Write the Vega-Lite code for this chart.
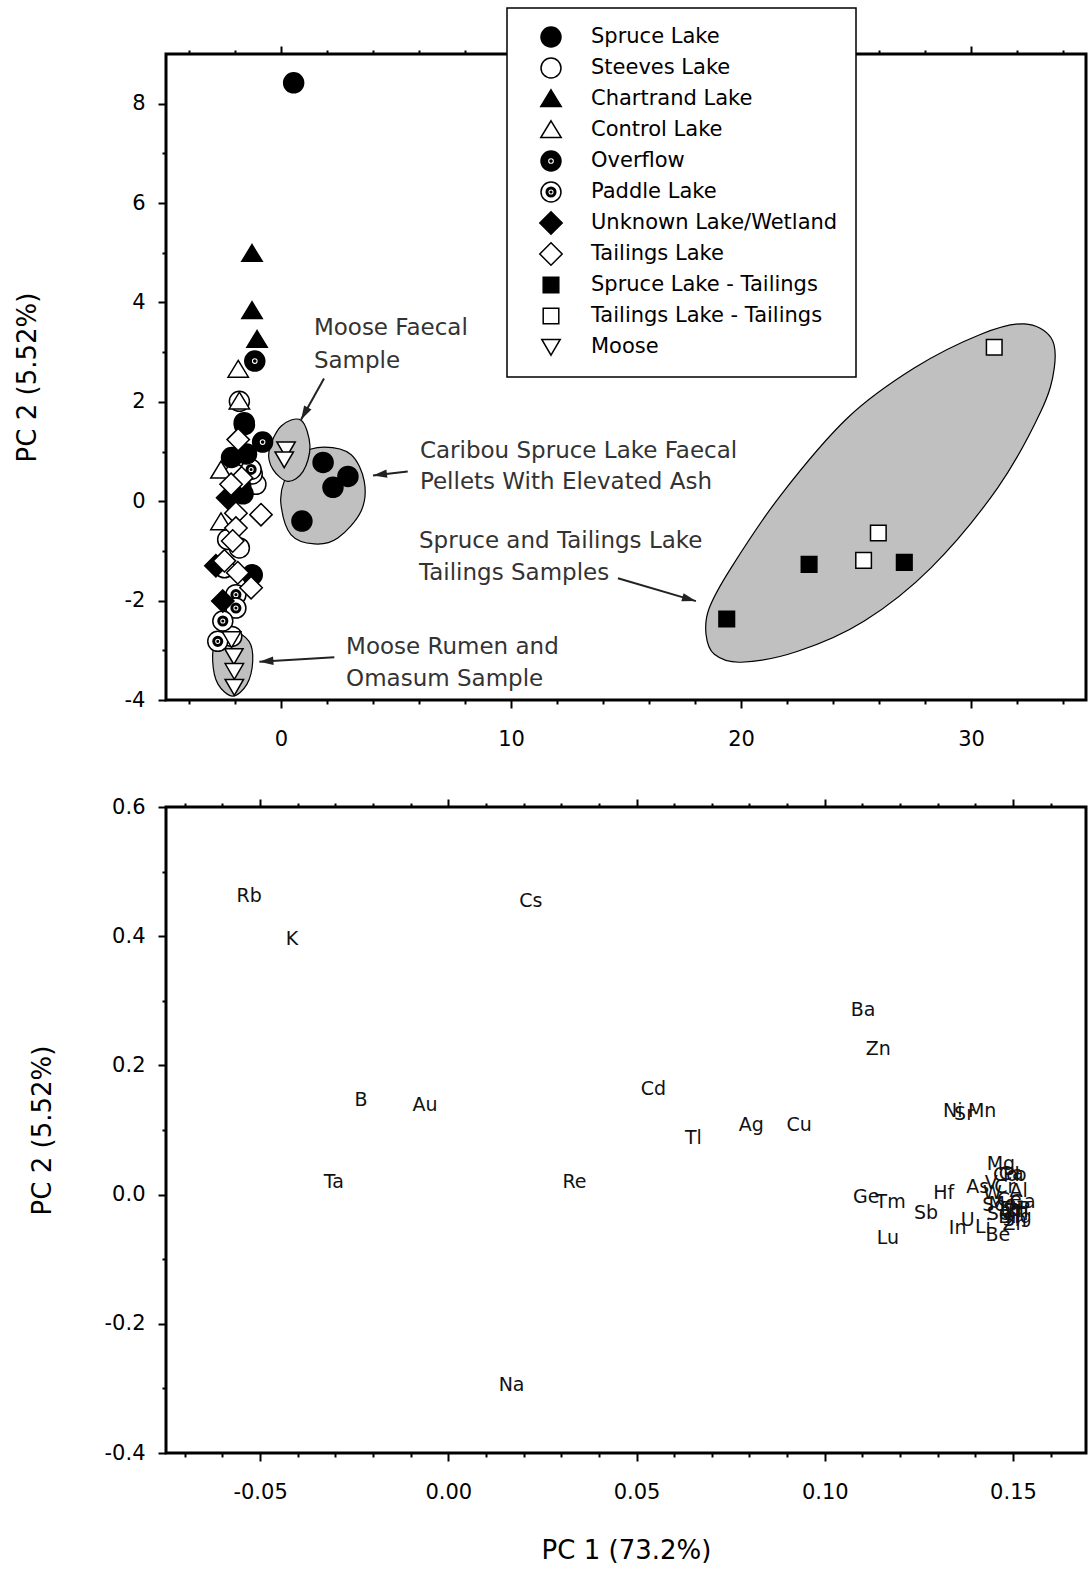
{
  "$schema": "https://vega.github.io/schema/vega-lite/v6.json",
  "padding": {"left": 12, "top": 7, "right": 2, "bottom": 4},
  "bounds": "flush",
  "spacing": 107,
  "datasets": {
    "scores": [
      {"g": "Steeves Lake", "x": -1.81, "y": 2.01},
      {"g": "Steeves Lake", "x": -1.09, "y": 0.34},
      {"g": "Steeves Lake", "x": -1.25, "y": 0.55},
      {"g": "Steeves Lake", "x": -2.32, "y": -0.77},
      {"g": "Steeves Lake", "x": -1.81, "y": -0.94},
      {"g": "Steeves Lake", "x": -2.46, "y": -1.34},
      {"g": "Steeves Lake", "x": -2.14, "y": -2.72},
      {"g": "Steeves Lake", "x": -2.0, "y": 0.55},
      {"g": "Paddle Lake", "x": -1.30, "y": 0.64},
      {"g": "Paddle Lake", "x": -1.85, "y": 0.17},
      {"g": "Paddle Lake", "x": -1.96, "y": -1.88},
      {"g": "Paddle Lake", "x": -1.96, "y": -2.15},
      {"g": "Paddle Lake", "x": -2.53, "y": -2.41},
      {"g": "Paddle Lake", "x": -2.75, "y": -2.82},
      {"g": "Spruce Lake", "x": 0.55, "y": 8.42},
      {"g": "Spruce Lake", "x": 1.83, "y": 0.78},
      {"g": "Spruce Lake", "x": 2.26, "y": 0.28},
      {"g": "Spruce Lake", "x": 2.91, "y": 0.50},
      {"g": "Spruce Lake", "x": 0.91, "y": -0.40},
      {"g": "Spruce Lake", "x": -1.6, "y": 1.58},
      {"g": "Spruce Lake", "x": -2.15, "y": 0.88},
      {"g": "Spruce Lake", "x": -1.5, "y": 0.95},
      {"g": "Spruce Lake", "x": -1.65, "y": 0.15},
      {"g": "Spruce Lake", "x": -1.25, "y": -1.48},
      {"g": "Spruce Lake", "x": -1.75, "y": 0.3},
      {"g": "Unknown Lake/Wetland", "x": -2.32, "y": 0.07},
      {"g": "Unknown Lake/Wetland", "x": -2.83, "y": -1.30},
      {"g": "Unknown Lake/Wetland", "x": -2.53, "y": -2.01},
      {"g": "Overflow", "x": -1.14, "y": 2.82},
      {"g": "Overflow", "x": -1.59, "y": 1.54},
      {"g": "Overflow", "x": -0.80, "y": 1.19},
      {"g": "Control Lake", "x": -1.86, "y": 2.65},
      {"g": "Control Lake", "x": -1.81, "y": 2.01},
      {"g": "Control Lake", "x": -2.61, "y": 0.62},
      {"g": "Control Lake", "x": -2.61, "y": -0.42},
      {"g": "Chartrand Lake", "x": -1.26, "y": 4.98},
      {"g": "Chartrand Lake", "x": -1.26, "y": 3.83},
      {"g": "Chartrand Lake", "x": -1.04, "y": 3.25},
      {"g": "Tailings Lake", "x": -1.86, "y": 1.24},
      {"g": "Tailings Lake", "x": -1.71, "y": 0.47},
      {"g": "Tailings Lake", "x": -2.17, "y": 0.34},
      {"g": "Tailings Lake", "x": -1.96, "y": -0.24},
      {"g": "Tailings Lake", "x": -0.87, "y": -0.27},
      {"g": "Tailings Lake", "x": -1.96, "y": -0.54},
      {"g": "Tailings Lake", "x": -2.1, "y": -0.80},
      {"g": "Tailings Lake", "x": -2.46, "y": -1.20},
      {"g": "Tailings Lake", "x": -1.88, "y": -1.44},
      {"g": "Tailings Lake", "x": -1.30, "y": -1.74},
      {"g": "Moose", "x": 0.22, "y": 1.04},
      {"g": "Moose", "x": 0.14, "y": 0.84},
      {"g": "Moose", "x": -2.15, "y": -2.78},
      {"g": "Moose", "x": -2.05, "y": -3.12},
      {"g": "Moose", "x": -2.03, "y": -3.42},
      {"g": "Moose", "x": -2.03, "y": -3.74},
      {"g": "Spruce Lake - Tailings", "x": 19.38, "y": -2.37},
      {"g": "Spruce Lake - Tailings", "x": 22.96, "y": -1.27},
      {"g": "Spruce Lake - Tailings", "x": 27.1, "y": -1.23},
      {"g": "Tailings Lake - Tailings", "x": 31.01, "y": 3.10},
      {"g": "Tailings Lake - Tailings", "x": 25.97, "y": -0.64},
      {"g": "Tailings Lake - Tailings", "x": 25.33, "y": -1.19}
    ],
    "ellipses": [
      {"e": "T", "i": 1, "x": 32.32, "y": 3.57},
      {"e": "T", "i": 2, "x": 33.48, "y": 3.29},
      {"e": "T", "i": 3, "x": 33.62, "y": 2.68},
      {"e": "T", "i": 4, "x": 33.04, "y": 1.81},
      {"e": "T", "i": 5, "x": 31.16, "y": 0.27},
      {"e": "T", "i": 6, "x": 28.26, "y": -1.34},
      {"e": "T", "i": 7, "x": 25.36, "y": -2.41},
      {"e": "T", "i": 8, "x": 22.47, "y": -3.02},
      {"e": "T", "i": 9, "x": 20.0, "y": -3.24},
      {"e": "T", "i": 10, "x": 18.84, "y": -3.08},
      {"e": "T", "i": 11, "x": 18.48, "y": -2.68},
      {"e": "T", "i": 12, "x": 18.62, "y": -2.15},
      {"e": "T", "i": 13, "x": 19.57, "y": -1.34},
      {"e": "T", "i": 14, "x": 21.74, "y": 0.13},
      {"e": "T", "i": 15, "x": 24.64, "y": 1.68},
      {"e": "T", "i": 16, "x": 27.53, "y": 2.68},
      {"e": "T", "i": 17, "x": 30.43, "y": 3.36},
      {"e": "C", "i": 1, "x": 1.88, "y": 1.09},
      {"e": "C", "i": 2, "x": 3.04, "y": 0.94},
      {"e": "C", "i": 3, "x": 3.62, "y": 0.40},
      {"e": "C", "i": 4, "x": 3.48, "y": -0.20},
      {"e": "C", "i": 5, "x": 2.47, "y": -0.74},
      {"e": "C", "i": 6, "x": 1.45, "y": -0.86},
      {"e": "C", "i": 7, "x": 0.43, "y": -0.67},
      {"e": "C", "i": 8, "x": 0.0, "y": -0.07},
      {"e": "C", "i": 9, "x": 0.14, "y": 0.40},
      {"e": "C", "i": 10, "x": 0.87, "y": 0.94},
      {"e": "F", "i": 1, "x": 0.87, "y": 1.63},
      {"e": "F", "i": 2, "x": 1.26, "y": 1.11},
      {"e": "F", "i": 3, "x": 0.96, "y": 0.60},
      {"e": "F", "i": 4, "x": 0.30, "y": 0.40},
      {"e": "F", "i": 5, "x": -0.35, "y": 0.64},
      {"e": "F", "i": 6, "x": -0.52, "y": 1.01},
      {"e": "F", "i": 7, "x": 0.0, "y": 1.51},
      {"e": "R", "i": 1, "x": -2.1, "y": -2.62},
      {"e": "R", "i": 2, "x": -1.39, "y": -2.82},
      {"e": "R", "i": 3, "x": -1.23, "y": -3.22},
      {"e": "R", "i": 4, "x": -1.48, "y": -3.68},
      {"e": "R", "i": 5, "x": -2.1, "y": -3.92},
      {"e": "R", "i": 6, "x": -2.74, "y": -3.68},
      {"e": "R", "i": 7, "x": -2.97, "y": -3.22},
      {"e": "R", "i": 8, "x": -2.83, "y": -2.82}
    ],
    "arrows": [
      {"a": 1, "x": 1.87, "y": 2.47, "x2": 0.87, "y2": 1.64},
      {"a": 2, "x": 5.51, "y": 0.60, "x2": 4.0, "y2": 0.52},
      {"a": 3, "x": 14.65, "y": -1.55, "x2": 18.04, "y2": -2.01},
      {"a": 4, "x": 2.32, "y": -3.14, "x2": -0.94, "y2": -3.23}
    ],
    "notes": [
      {"t": "Moose Faecal", "x": 1.43, "y": 3.48},
      {"t": "Sample", "x": 1.43, "y": 2.82},
      {"t": "Caribou Spruce Lake Faecal", "x": 6.04, "y": 1.01},
      {"t": "Pellets With Elevated Ash", "x": 6.04, "y": 0.38},
      {"t": "Spruce and Tailings Lake", "x": 6.0, "y": -0.80},
      {"t": "Tailings Samples", "x": 6.0, "y": -1.45},
      {"t": "Moose Rumen and", "x": 2.83, "y": -2.94},
      {"t": "Omasum Sample", "x": 2.83, "y": -3.58}
    ],
    "loadings": [
      {"el": "Rb", "x": -0.0529, "y": 0.462},
      {"el": "K", "x": -0.0415, "y": 0.396},
      {"el": "Cs", "x": 0.0219, "y": 0.455},
      {"el": "Ba", "x": 0.1102, "y": 0.285},
      {"el": "Zn", "x": 0.1142, "y": 0.225},
      {"el": "B", "x": -0.0232, "y": 0.147},
      {"el": "Au", "x": -0.0062, "y": 0.138},
      {"el": "Cd", "x": 0.0545, "y": 0.164},
      {"el": "Ag", "x": 0.0805, "y": 0.107},
      {"el": "Cu", "x": 0.0932, "y": 0.107},
      {"el": "Tl", "x": 0.0651, "y": 0.087},
      {"el": "Ni", "x": 0.1340, "y": 0.130},
      {"el": "Sr", "x": 0.1370, "y": 0.124},
      {"el": "Mn", "x": 0.1418, "y": 0.130},
      {"el": "Ta", "x": -0.0304, "y": 0.020},
      {"el": "Re", "x": 0.0335, "y": 0.019},
      {"el": "Na", "x": 0.0168, "y": -0.294},
      {"el": "Ge", "x": 0.1110, "y": -0.003},
      {"el": "Tm", "x": 0.1175, "y": -0.011},
      {"el": "Hf", "x": 0.1316, "y": 0.003},
      {"el": "Sb", "x": 0.1269, "y": -0.028},
      {"el": "Lu", "x": 0.1168, "y": -0.067},
      {"el": "As", "x": 0.1406, "y": 0.011},
      {"el": "In", "x": 0.1353, "y": -0.052},
      {"el": "U", "x": 0.1380, "y": -0.039},
      {"el": "Li", "x": 0.1420, "y": -0.050},
      {"el": "Be", "x": 0.1460, "y": -0.062},
      {"el": "Mg", "x": 0.1468, "y": 0.048},
      {"el": "Co", "x": 0.1480, "y": 0.030},
      {"el": "Ca", "x": 0.1495, "y": 0.032},
      {"el": "Pb", "x": 0.1505, "y": 0.030},
      {"el": "V", "x": 0.1442, "y": 0.018},
      {"el": "Cr", "x": 0.1478, "y": 0.012},
      {"el": "W", "x": 0.1445, "y": 0.002},
      {"el": "Al", "x": 0.1515, "y": 0.005},
      {"el": "Ga", "x": 0.1525, "y": -0.012},
      {"el": "Sc", "x": 0.1448, "y": -0.016},
      {"el": "Mo", "x": 0.1472, "y": -0.014},
      {"el": "Fe", "x": 0.1495, "y": -0.022},
      {"el": "Ti", "x": 0.1520, "y": -0.030},
      {"el": "Bi", "x": 0.1485, "y": -0.035},
      {"el": "Se", "x": 0.1462, "y": -0.030},
      {"el": "Sn", "x": 0.1505, "y": -0.040},
      {"el": "P", "x": 0.1530, "y": -0.022},
      {"el": "Y", "x": 0.1490, "y": -0.028},
      {"el": "Zr", "x": 0.1500, "y": -0.046},
      {"el": "Hg", "x": 0.1515, "y": -0.034},
      {"el": "Ce", "x": 0.1490, "y": -0.008},
      {"el": "Th", "x": 0.1510, "y": -0.025}
    ]
  },
  "vconcat": [
    {
      "width": 920,
      "height": 646,
      "resolve": {"axis": {"x": "independent", "y": "independent"}},
      "layer": [
        {
          "data": {"name": "ellipses"},
          "mark": {"type": "line", "interpolate": "cardinal-closed", "fill": "#c0c0c0", "stroke": "black", "strokeWidth": 1.2},
          "encoding": {
            "x": {"field": "x", "type": "quantitative", "scale": {"domain": [-5, 35], "nice": false, "zero": false},
                  "axis": {"orient": "bottom", "values": [0, 10, 20, 30], "format": "d", "tickSize": 8, "labelPadding": 20, "title": null}},
            "y": {"field": "y", "type": "quantitative", "scale": {"domain": [-4, 9], "nice": false, "zero": false},
                  "axis": {"orient": "left", "values": [-4, -2, 0, 2, 4, 6, 8], "format": "d", "tickSize": 8, "labelPadding": 13, "title": "PC 2 (5.52%)", "titleX": -139, "titleBaseline": "middle"}},
            "detail": {"field": "e"},
            "order": {"field": "i"}
          }
        },
        {
          "data": {"name": "arrows"},
          "mark": {"type": "rule", "color": "#222222", "strokeWidth": 2},
          "encoding": {
            "x": {"field": "x", "type": "quantitative", "scale": {"domain": [-5, 35], "nice": false, "zero": false},
                  "axis": {"orient": "bottom", "values": [-4, -2, 2, 4, 6, 8, 12, 14, 16, 18, 22, 24, 26, 28, 32, 34], "tickSize": 4, "labels": false, "title": null}},
            "y": {"field": "y", "type": "quantitative", "scale": {"domain": [-4, 9], "nice": false, "zero": false},
                  "axis": {"orient": "left", "values": [-3, -1, 1, 3, 5, 7], "tickSize": 4, "labels": false, "title": null}},
            "x2": {"field": "x2"},
            "y2": {"field": "y2"}
          }
        },
        {
          "data": {"name": "arrows"},
          "transform": [{"filter": "datum.a == 1"}],
          "mark": {"type": "point", "shape": "M0,0L-0.6,2L0.6,2Z", "size": 196, "filled": true, "color": "#222222", "opacity": 1, "angle": 209},
          "encoding": {
            "x": {"field": "x2", "type": "quantitative", "scale": {"domain": [-5, 35], "nice": false, "zero": false},
                  "axis": {"orient": "top", "values": [0, 10, 20, 30], "tickSize": 8, "labels": false, "title": null}},
            "y": {"field": "y2", "type": "quantitative", "scale": {"domain": [-4, 9], "nice": false, "zero": false}, "axis": null}
          }
        },
        {
          "data": {"name": "arrows"},
          "transform": [{"filter": "datum.a == 2"}],
          "mark": {"type": "point", "shape": "M0,0L-0.6,2L0.6,2Z", "size": 196, "filled": true, "color": "#222222", "opacity": 1, "angle": 263},
          "encoding": {
            "x": {"field": "x2", "type": "quantitative", "scale": {"domain": [-5, 35], "nice": false, "zero": false},
                  "axis": {"orient": "top", "values": [-4, -2, 2, 4, 6, 8, 12, 14, 16, 18, 22, 24, 26, 28, 32, 34], "tickSize": 4, "labels": false, "title": null}},
            "y": {"field": "y2", "type": "quantitative", "scale": {"domain": [-4, 9], "nice": false, "zero": false}, "axis": null}
          }
        },
        {
          "data": {"name": "arrows"},
          "transform": [{"filter": "datum.a == 3"}],
          "mark": {"type": "point", "shape": "M0,0L-0.6,2L0.6,2Z", "size": 196, "filled": true, "color": "#222222", "opacity": 1, "angle": 106},
          "encoding": {
            "x": {"field": "x2", "type": "quantitative", "scale": {"domain": [-5, 35], "nice": false, "zero": false}, "axis": null},
            "y": {"field": "y2", "type": "quantitative", "scale": {"domain": [-4, 9], "nice": false, "zero": false}, "axis": null}
          }
        },
        {
          "data": {"name": "arrows"},
          "transform": [{"filter": "datum.a == 4"}],
          "mark": {"type": "point", "shape": "M0,0L-0.6,2L0.6,2Z", "size": 196, "filled": true, "color": "#222222", "opacity": 1, "angle": 266},
          "encoding": {
            "x": {"field": "x2", "type": "quantitative", "scale": {"domain": [-5, 35], "nice": false, "zero": false}, "axis": null},
            "y": {"field": "y2", "type": "quantitative", "scale": {"domain": [-4, 9], "nice": false, "zero": false}, "axis": null}
          }
        },
        {
          "data": {"name": "notes"},
          "mark": {"type": "text", "align": "left", "baseline": "middle", "fontSize": 23, "font": "DejaVu Sans", "color": "#333333"},
          "encoding": {
            "x": {"field": "x", "type": "quantitative", "scale": {"domain": [-5, 35], "nice": false, "zero": false}, "axis": null},
            "y": {"field": "y", "type": "quantitative", "scale": {"domain": [-4, 9], "nice": false, "zero": false}, "axis": null},
            "text": {"field": "t"}
          }
        },
        {
          "data": {"name": "scores"},
          "mark": {"type": "point", "filled": true, "opacity": 1, "stroke": "black", "strokeWidth": 1.5, "size": 400},
          "encoding": {
            "x": {"field": "x", "type": "quantitative", "scale": {"domain": [-5, 35], "nice": false, "zero": false}, "axis": null},
            "y": {"field": "y", "type": "quantitative", "scale": {"domain": [-4, 9], "nice": false, "zero": false}, "axis": null},
            "shape": {
              "field": "g", "type": "nominal",
              "scale": {
                "domain": ["Spruce Lake", "Steeves Lake", "Chartrand Lake", "Control Lake", "Overflow", "Paddle Lake", "Unknown Lake/Wetland", "Tailings Lake", "Spruce Lake - Tailings", "Tailings Lake - Tailings", "Moose"],
                "range": [
                  "circle",
                  "circle",
                  "M0,-0.92L1.02,0.76L-1.02,0.76Z",
                  "M0,-0.92L1.02,0.76L-1.02,0.76Z",
                  "M1,0A1,1,0,1,1,-1,0A1,1,0,1,1,1,0ZM0.36,0A0.36,0.36,0,1,0,-0.36,0A0.36,0.36,0,1,0,0.36,0ZM0.1,0A0.1,0.1,0,1,1,-0.1,0A0.1,0.1,0,1,1,0.1,0Z",
                  "M1,0A1,1,0,1,1,-1,0A1,1,0,1,1,1,0ZM0.48,0A0.48,0.48,0,1,1,-0.48,0A0.48,0.48,0,1,1,0.48,0ZM0.33,0A0.33,0.33,0,1,1,-0.33,0A0.33,0.33,0,1,1,0.33,0ZM0.08,0A0.08,0.08,0,1,1,-0.08,0A0.08,0.08,0,1,1,0.08,0Z",
                  "M0,-1.12L1.12,0L0,1.12L-1.12,0Z",
                  "M0,-1.12L1.12,0L0,1.12L-1.12,0Z",
                  "M-0.78,-0.78L0.78,-0.78L0.78,0.78L-0.78,0.78Z",
                  "M-0.78,-0.78L0.78,-0.78L0.78,0.78L-0.78,0.78Z",
                  "M0,0.82L0.92,-0.76L-0.92,-0.76Z"
                ]
              },
              "legend": {"title": null, "orient": "none", "legendX": 341, "legendY": -46, "strokeColor": "black", "fillColor": "white", "padding": 18, "gridAlign": "all", "symbolOffset": 15, "symbolSize": 400, "symbolStrokeWidth": 1.5, "labelFontSize": 21, "labelFont": "DejaVu Sans", "labelColor": "black", "labelOffset": 29, "rowPadding": 1, "labelLimit": 400}
            },
            "fill": {
              "field": "g", "type": "nominal",
              "scale": {
                "domain": ["Spruce Lake", "Steeves Lake", "Chartrand Lake", "Control Lake", "Overflow", "Paddle Lake", "Unknown Lake/Wetland", "Tailings Lake", "Spruce Lake - Tailings", "Tailings Lake - Tailings", "Moose"],
                "range": ["black", "white", "black", "white", "black", "white", "black", "white", "black", "white", "white"]
              },
              "legend": {"title": null, "orient": "none", "legendX": 341, "legendY": -46, "strokeColor": "black", "fillColor": "white", "padding": 18, "gridAlign": "all", "symbolOffset": 15, "symbolSize": 400, "symbolStrokeWidth": 1.5, "labelFontSize": 21, "labelFont": "DejaVu Sans", "labelColor": "black", "labelOffset": 29, "rowPadding": 1, "labelLimit": 400}
            }
          }
        }
      ]
    },
    {
      "width": 920,
      "height": 646,
      "data": {"name": "loadings"},
      "resolve": {"axis": {"x": "independent", "y": "independent"}},
      "layer": [
        {
          "mark": {"type": "text", "fontSize": 19, "font": "DejaVu Sans", "color": "#111111", "align": "center", "baseline": "middle"},
          "encoding": {
            "x": {"field": "x", "type": "quantitative", "scale": {"domain": [-0.075, 0.1694], "nice": false, "zero": false},
                  "axis": {"orient": "bottom", "values": [-0.05, 0, 0.05, 0.1, 0.15], "format": ".2f", "tickSize": 8, "labelPadding": 20, "title": "PC 1 (73.2%)", "titlePadding": 35}},
            "y": {"field": "y", "type": "quantitative", "scale": {"domain": [-0.4, 0.6], "nice": false, "zero": false},
                  "axis": {"orient": "left", "values": [-0.4, -0.2, 0, 0.2, 0.4, 0.6], "format": ".1f", "tickSize": 8, "labelPadding": 13, "title": "PC 2 (5.52%)", "titleX": -124, "titleBaseline": "middle"}},
            "text": {"field": "el"}
          }
        },
        {
          "mark": {"type": "point", "opacity": 0},
          "encoding": {
            "x": {"field": "x", "type": "quantitative", "scale": {"domain": [-0.075, 0.1694], "nice": false, "zero": false},
                  "axis": {"orient": "bottom", "values": [-0.07, -0.06, -0.04, -0.03, -0.02, -0.01, 0.01, 0.02, 0.03, 0.04, 0.06, 0.07, 0.08, 0.09, 0.11, 0.12, 0.13, 0.14, 0.16], "tickSize": 4, "labels": false, "title": null}},
            "y": {"field": "y", "type": "quantitative", "scale": {"domain": [-0.4, 0.6], "nice": false, "zero": false},
                  "axis": {"orient": "left", "values": [-0.3, -0.1, 0.1, 0.3, 0.5], "tickSize": 4, "labels": false, "title": null}}
          }
        },
        {
          "mark": {"type": "point", "opacity": 0},
          "encoding": {
            "x": {"field": "x", "type": "quantitative", "scale": {"domain": [-0.075, 0.1694], "nice": false, "zero": false},
                  "axis": {"orient": "top", "values": [-0.05, 0, 0.05, 0.1, 0.15], "tickSize": 8, "labels": false, "title": null}},
            "y": {"field": "y", "type": "quantitative", "scale": {"domain": [-0.4, 0.6], "nice": false, "zero": false}, "axis": null}
          }
        },
        {
          "mark": {"type": "point", "opacity": 0},
          "encoding": {
            "x": {"field": "x", "type": "quantitative", "scale": {"domain": [-0.075, 0.1694], "nice": false, "zero": false},
                  "axis": {"orient": "top", "values": [-0.07, -0.06, -0.04, -0.03, -0.02, -0.01, 0.01, 0.02, 0.03, 0.04, 0.06, 0.07, 0.08, 0.09, 0.11, 0.12, 0.13, 0.14, 0.16], "tickSize": 4, "labels": false, "title": null}},
            "y": {"field": "y", "type": "quantitative", "scale": {"domain": [-0.4, 0.6], "nice": false, "zero": false}, "axis": null}
          }
        }
      ]
    }
  ],
  "config": {
    "font": "DejaVu Sans",
    "view": {"stroke": "black", "strokeWidth": 3},
    "axis": {"grid": false, "domain": false, "tickColor": "black", "tickWidth": 2, "labelColor": "black", "labelFont": "DejaVu Sans", "labelFontSize": 21, "titleFont": "DejaVu Sans", "titleFontSize": 26, "titleFontWeight": "normal", "titleColor": "black"},
    "legend": {"strokeWidth": 1.5},
    "locale": {"number": {"decimal": ".", "thousands": ",", "grouping": [3], "currency": ["$", ""], "minus": "-"}}
  }
}
